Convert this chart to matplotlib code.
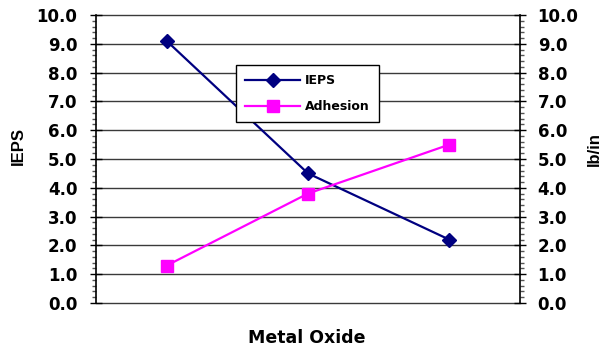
import matplotlib
matplotlib.use("Agg")
import matplotlib.pyplot as plt
from matplotlib.ticker import MultipleLocator, FormatStrFormatter

# Data
oxides = ["Oxide A", "Oxide B", "Oxide C"]
ieps = [9.1, 4.5, 2.2]
adhesion = [1.3, 3.8, 5.5]
y_ticks = [0.0, 1.0, 2.0, 3.0, 4.0, 5.0, 6.0, 7.0, 8.0, 9.0, 10.0]

NAVY = "#000080"
MAGENTA = "#FF00FF"
TICK_FONT = dict(family="DejaVu Sans", weight="bold", size=12)

fig = plt.figure(figsize=(6.05, 3.52), dpi=100)
fig.patch.set_facecolor("white")
ax = fig.add_axes([96 / 605, 1 - 303 / 352, (520 - 96) / 605, (303 - 15) / 352])
ax2 = ax.twinx()

xpos = [i + 0.5 for i in range(len(oxides))]

for a in (ax, ax2):
    a.set_xlim(0, len(oxides))
    a.set_ylim(y_ticks[0], y_ticks[-1])
    a.set_yticks(y_ticks)
    a.yaxis.set_major_formatter(FormatStrFormatter("%.1f"))
    a.yaxis.set_minor_locator(MultipleLocator(0.2))
    for s in ("top", "bottom"):
        a.spines[s].set_visible(False)
    a.spines["left"].set_color("black")
    a.spines["right"].set_color("black")
    a.spines["left"].set_linewidth(1.2)
    a.spines["right"].set_linewidth(1.2)
    a.set_xticks([])

ax.spines["right"].set_visible(False)
ax2.spines["left"].set_visible(False)

# Horizontal gridlines
for yv in y_ticks:
    ax.axhline(yv, color="#3a3a3a", linewidth=1.0, zorder=0.5, clip_on=False)

ax.tick_params(axis="y", which="major", direction="inout", length=8.6, width=1.0,
               pad=9.0, colors="black")
ax.tick_params(axis="y", which="minor", direction="out", length=3.0, width=1.0,
               colors="#555555")
ax2.tick_params(axis="y", which="major", direction="inout", length=8.6, width=1.0,
                pad=8.4, colors="black")
ax2.tick_params(axis="y", which="minor", direction="out", length=3.0, width=1.0,
                colors="#555555")
for lbl in ax.get_yticklabels() + ax2.get_yticklabels():
    lbl.set_fontproperties(matplotlib.font_manager.FontProperties(**TICK_FONT))

l1, = ax.plot(xpos, ieps, color=NAVY, linewidth=1.6, marker="D", markersize=7.5,
              markerfacecolor=NAVY, markeredgecolor=NAVY, label="IEPS", zorder=3)
l2, = ax2.plot(xpos, adhesion, color=MAGENTA, linewidth=1.6, marker="s", markersize=8.5,
               markerfacecolor=MAGENTA, markeredgecolor=MAGENTA, label="Adhesion", zorder=3)

leg = ax2.legend(handles=[l1, l2], loc="upper left",
                 bbox_to_anchor=((236 - 96) / 424, 1 - (65 - 15) / 288),
                 frameon=True, fancybox=False, framealpha=1, edgecolor="black",
                 borderpad=0.75, labelspacing=1.0, handlelength=4.4, handletextpad=0.35,
                 borderaxespad=0,
                 prop=dict(family="DejaVu Sans", weight="bold", size=9))
leg.get_frame().set_linewidth(1.0)

fig.text(307 / 605, 1 - 338 / 352, "Metal Oxide", ha="center", va="center",
         family="DejaVu Sans", weight="bold", size=12.5)
fig.text(18 / 605, 1 - 146 / 352, "IEPS", ha="center", va="center", rotation=90,
         family="Liberation Sans", weight="bold", size=12)
fig.text(594 / 605, 1 - 149 / 352, "lb/in", ha="center", va="center", rotation=90,
         family="Liberation Sans", weight="bold", size=12)

fig.savefig("out.png", dpi=100, facecolor="white")
